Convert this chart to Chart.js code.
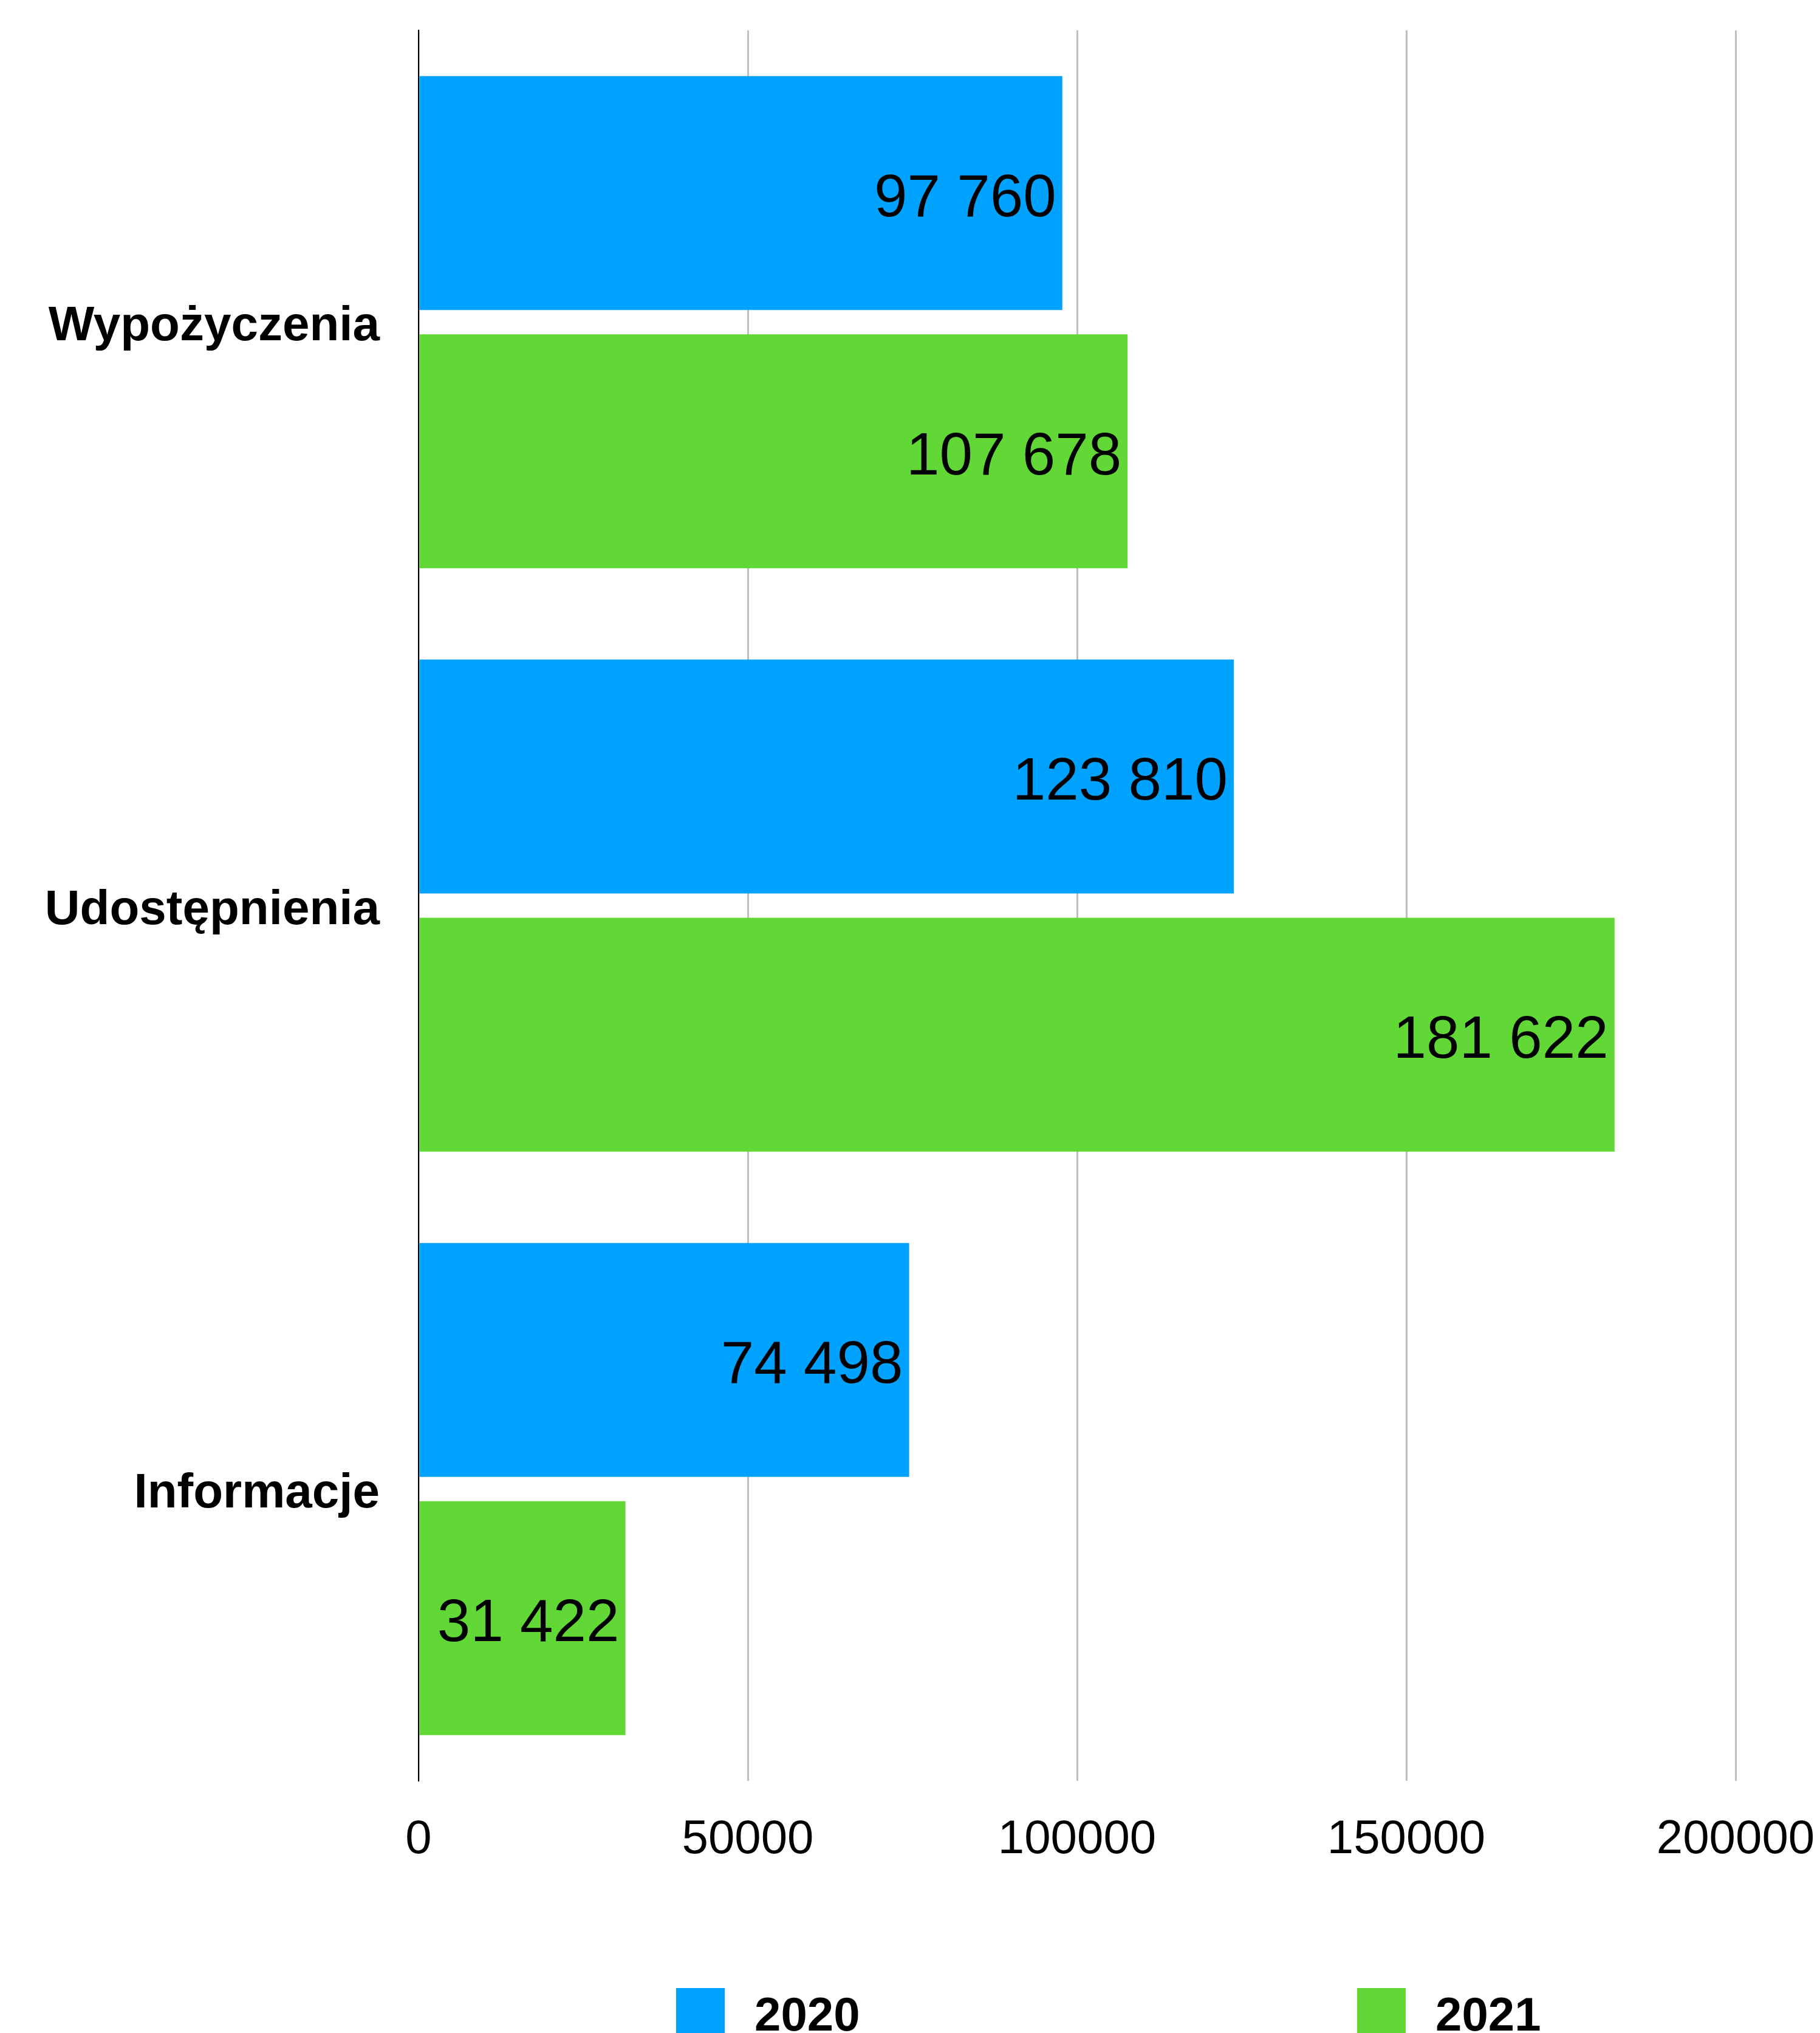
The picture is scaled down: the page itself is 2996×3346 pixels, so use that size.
<!DOCTYPE html>
<html>
<head>
<meta charset="utf-8">
<script src="https://cdn.jsdelivr.net/npm/chart.js@4/dist/chart.umd.min.js"></script>
<style>
  html, body { margin: 0; padding: 0; background: #fff; overflow: hidden; }
  #wrap { width: 2996px; height: 3346px; position: relative; }
</style>
</head>
<body>
<div id="wrap"><canvas id="myChart"></canvas></div>
<script>
// dane z wykresu
const categories = ['Wypożyczenia', 'Udostępnienia', 'Informacje'];
const seriesNames = ['2020', '2021'];
const values2020 = [97760, 123810, 74498];
const values2021 = [107678, 181622, 31422];
const xTicks = [0, 50000, 100000, 150000, 200000];

const FONT = '"Liberation Sans", Arial, Helvetica, sans-serif';
const colors = ['#00A2FF', '#61D836'];

// 97760 -> "97 760"
let fmt = (v) => String(v).replace(/\B(?=(\d{3})+(?!\d))/g, ' ');

/* etykiety wartosci na koncu slupkow */
const valueLabels = {
  id: 'valueLabels',
  afterDatasetsDraw(chart) {
    const ctx = chart.ctx;
    ctx.save();
    ctx.font = '98px ' + FONT;
    ctx.fillStyle = '#000';
    ctx.textAlign = 'right';
    ctx.textBaseline = 'middle';
    chart.data.datasets.forEach((ds, i) => {
      chart.getDatasetMeta(i).data.forEach((bar, j) => {
        ctx.fillText(fmt(ds.data[j]), bar.x - 10, bar.y + 11);
      });
    });
    ctx.restore();
  }
};

/* legenda na dole (dwie kolumny) */
const bottomLegend = {
  id: 'bottomLegend',
  afterDraw(chart) {
    const ctx = chart.ctx;
    const slots = [1113, 2234];
    ctx.save();
    ctx.font = 'bold 78px ' + FONT;
    ctx.textBaseline = 'alphabetic';
    ctx.textAlign = 'left';
    chart.data.datasets.forEach((ds, i) => {
      ctx.fillStyle = ds.backgroundColor;
      ctx.fillRect(slots[i], 3272, 80, 80);
      ctx.fillStyle = '#000';
      ctx.fillText(ds.label, slots[i] + 129, 3342);
    });
    ctx.restore();
  }
};

// bez dodatkowych marginesow od etykiet osi
let noPad = (scale) => {
  scale.paddingTop = 0;
  scale.paddingBottom = 0;
  scale.paddingLeft = 0;
  scale.paddingRight = 0;
};

const ctx = document.getElementById('myChart');
const dataset = {
  labels: categories,
  datasets: [
    { label: seriesNames[0], data: values2020, backgroundColor: colors[0] },
    { label: seriesNames[1], data: values2021, backgroundColor: colors[1] }
  ]
};

const config = {
  type: 'bar',
  data: dataset,
  options: {
    indexAxis: 'y',
    responsive: true,
    maintainAspectRatio: false,
    devicePixelRatio: 1,
    animation: false,
    categoryPercentage: 0.885,
    barPercentage: 0.906,
    layout: { padding: { top: 50, right: 139, bottom: 0, left: 0 } },
    plugins: {
      legend: { display: false },
      tooltip: { enabled: false }
    },
    scales: {
      x: {
        min: 0,
        max: 200000,
        afterBuildTicks: (scale) => { scale.ticks = xTicks.map(v => ({ value: v })); },
        afterFit: (scale) => { scale.height = 415; noPad(scale); },
        grid: { display: true, color: '#BFBFBF', lineWidth: 3, drawTicks: false },
        border: { display: false },
        ticks: {
          padding: 51,
          color: '#000',
          font: { family: FONT, size: 78 },
          callback: (v) => String(v)
        }
      },
      y: {
        afterFit: (scale) => { scale.width = 689; noPad(scale); },
        grid: { display: false, drawTicks: false },
        border: { display: true, color: '#000', width: 2 },
        ticks: {
          padding: 64,
          labelOffset: 8,
          color: '#000',
          font: { family: FONT, size: 80, weight: 'bold' }
        }
      }
    }
  },
  plugins: [valueLabels, bottomLegend]
};

const chart = new Chart(ctx, config);
</script>
</body>
</html>
